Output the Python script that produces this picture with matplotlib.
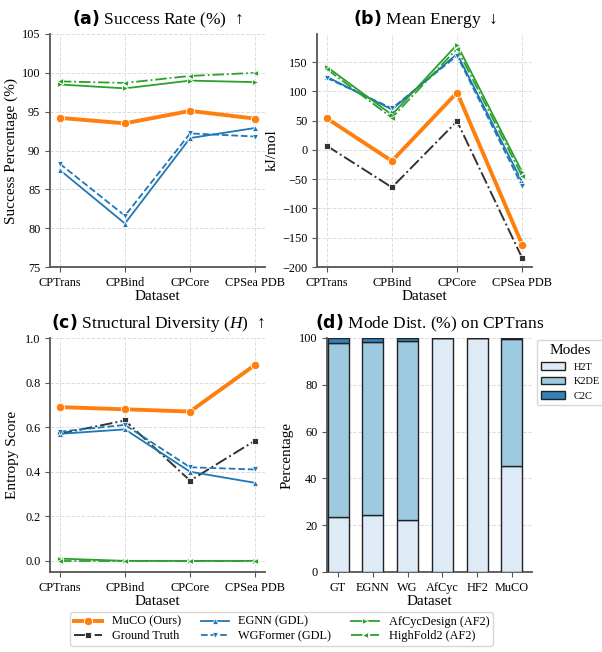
import numpy as np
import matplotlib
matplotlib.use("Agg")
import matplotlib.pyplot as plt
from matplotlib import rcParams

rcParams.update({
    'font.family': ['Liberation Serif', 'DejaVu Sans'],
    'mathtext.fontset': 'custom',
    'mathtext.bf': 'DejaVu Sans:bold',
    'mathtext.it': 'Liberation Serif:italic',
    'mathtext.rm': 'Liberation Serif',
    'axes.spines.top': False,
    'axes.spines.right': False,
    'axes.edgecolor': '#555555',
    'axes.linewidth': 1.3,
    'xtick.color': '#555555',
    'ytick.color': '#555555',
    'xtick.labelcolor': 'black',
    'ytick.labelcolor': 'black',
    'xtick.labelsize': 8.8,
    'ytick.labelsize': 8.8,
    'axes.labelsize': 11,
})

# ── data ──────────────────────────────────────────────────────────────
datasets = ['CPTrans', 'CPBind', 'CPCore', 'CPSea PDB']

methods = ['MuCO (Ours)', 'Ground Truth', 'EGNN (GDL)', 'WGFormer (GDL)',
           'AfCycDesign (AF2)', 'HighFold2 (AF2)']

success = {
    'MuCO (Ours)':       [94.2, 93.5, 95.1, 94.1],
    'EGNN (GDL)':        [87.5, 80.6, 91.6, 92.9],
    'WGFormer (GDL)':    [88.3, 81.6, 92.2, 91.8],
    'AfCycDesign (AF2)': [98.5, 98.0, 99.0, 98.8],
    'HighFold2 (AF2)':   [98.9, 98.7, 99.6, 100.0],
}

energy = {
    'MuCO (Ours)':       [54, -19, 98, -162],
    'Ground Truth':      [7, -64, 49, -185],
    'EGNN (GDL)':        [125, 69, 164, -55],
    'WGFormer (GDL)':    [123, 71, 161, -62],
    'AfCycDesign (AF2)': [142, 60, 180, -38],
    'HighFold2 (AF2)':   [138, 55, 173, -45],
}

diversity = {
    'MuCO (Ours)':       [0.69, 0.68, 0.67, 0.88],
    'Ground Truth':      [0.57, 0.63, 0.36, 0.54],
    'EGNN (GDL)':        [0.57, 0.59, 0.40, 0.35],
    'WGFormer (GDL)':    [0.58, 0.61, 0.42, 0.41],
    'AfCycDesign (AF2)': [0.01, 0.0, 0.0, 0.0],
    'HighFold2 (AF2)':   [0.0, 0.0, 0.0, 0.0],
}

mode_models = ['GT', 'EGNN', 'WG', 'AfCyc', 'HF2', 'MuCO']
mode_names = ['H2T', 'K2DE', 'C2C']
h2t = [23.5, 24.3, 22.1, 100.0, 100.0, 45.5]
k2de = [74.5, 74.2, 76.7, 0.0, 0.0, 54.0]
c2c = [2.0, 1.5, 1.2, 0.0, 0.0, 0.5]

# ── styles ────────────────────────────────────────────────────────────
style = {
    'MuCO (Ours)':       dict(color='#ff7f0e', ls='-', marker='o', lw=2.8, ms=6),
    'Ground Truth':      dict(color='#333333', ls='-.', marker='s', lw=1.4, ms=5),
    'EGNN (GDL)':        dict(color='#1f77b4', ls='-', marker='^', lw=1.3, ms=4.5),
    'WGFormer (GDL)':    dict(color='#1f77b4', ls='--', marker='v', lw=1.3, ms=4.5),
    'AfCycDesign (AF2)': dict(color='#2ca02c', ls='-', marker='>', lw=1.3, ms=4.5),
    'HighFold2 (AF2)':   dict(color='#2ca02c', ls='-.', marker='<', lw=1.3, ms=4.5),
}
mode_colors = ['#deebf7', '#9ecae1', '#3182bd']

fig = plt.figure(figsize=(6.02, 6.52), dpi=100)
W, H = 602, 652


def add_ax(x0, y0, x1, y1):
    return fig.add_axes([x0 / W, 1 - y1 / H, (x1 - x0) / W, (y1 - y0) / H])


ax_a = add_ax(50, 34, 265, 267)
ax_b = add_ax(317, 34, 532, 267)
ax_c = add_ax(50, 338, 265, 572)
ax_d = add_ax(327, 338, 532, 572)

x = np.arange(len(datasets))


def line_panel(ax, data):
    for m in methods:
        if m not in data:
            continue
        s = style[m]
        ax.plot(x, data[m], color=s['color'], ls=s['ls'], lw=s['lw'],
                marker=s['marker'], ms=s['ms'], mec='white', mew=0.6,
                label=m, zorder=3)
    ax.set_xticks(x)
    ax.set_xticklabels(datasets)
    ax.set_xlim(-0.15, 3.15)
    ax.set_xlabel('Dataset', labelpad=1)
    ax.grid(True, ls='--', color='#dddddd', lw=0.7)
    ax.set_axisbelow(True)


line_panel(ax_a, success)
ax_a.set_ylim(75, 105)
ax_a.set_yticks(np.arange(75, 106, 5))
ax_a.set_ylabel('Success Percentage (%)', labelpad=3)
ax_a.set_title(r'$\mathbf{(a)}$ Success Rate (%)  ↑', fontsize=12.5, pad=7)

line_panel(ax_b, energy)
ax_b.set_ylim(-200, 198)
ax_b.set_yticks(np.arange(-200, 151, 50))
ax_b.set_ylabel('kJ/mol', labelpad=2)
ax_b.set_title(r'$\mathbf{(b)}$ Mean Energy  ↓', fontsize=12.5, pad=7)

line_panel(ax_c, diversity)
ax_c.set_ylim(-0.05, 1.0)
ax_c.set_yticks(np.arange(0, 1.01, 0.2))
ax_c.set_ylabel('Entropy Score')
ax_c.set_title(r'$\mathbf{(c)}$ Structural Diversity ($\mathit{H}$)  ↑', fontsize=12.5, pad=7)

# ── panel d: stacked bars ─────────────────────────────────────────────
xb = np.arange(len(mode_models))
bottom = np.zeros(len(mode_models))
for name, vals, col in zip(mode_names, [h2t, k2de, c2c], mode_colors):
    ax_d.bar(xb, vals, 0.6, bottom=bottom, color=col, edgecolor='#222222',
             lw=1.0, label=name, zorder=3)
    bottom += np.array(vals)
ax_d.set_xticks(xb)
ax_d.set_xticklabels(mode_models)
ax_d.set_xlim(-0.32, 5.58)
ax_d.set_ylim(0, 100)
ax_d.set_yticks(np.arange(0, 101, 20))
ax_d.set_xlabel('Dataset', labelpad=1)
ax_d.set_ylabel('Percentage')
ax_d.grid(True, axis='y', ls='--', color='#dddddd', lw=0.7)
ax_d.set_axisbelow(True)
ax_d.set_title(r'$\mathbf{(d)}$ Mode Dist. (%) on CPTrans', fontsize=12.5, pad=7)
ax_d.legend(title='Modes', loc='upper left', bbox_to_anchor=(1.015, 1.0),
            fontsize=7.5, title_fontsize=11, frameon=True, edgecolor='#cccccc',
            handlelength=2.3, handleheight=0.7, borderaxespad=0.2)

# ── shared legend ─────────────────────────────────────────────────────
handles, labels = ax_c.get_legend_handles_labels()
hmap = dict(zip(labels, handles))
fig.legend([hmap[k] for k in methods], methods, loc='lower center',
           bbox_to_anchor=(0.468, 0.0), ncol=3, fontsize=8.8, frameon=True,
           edgecolor='#cccccc', handlelength=2.3, columnspacing=1.6,
           labelspacing=0.2, borderpad=0.3)

fig.savefig('out.png', dpi=100)
